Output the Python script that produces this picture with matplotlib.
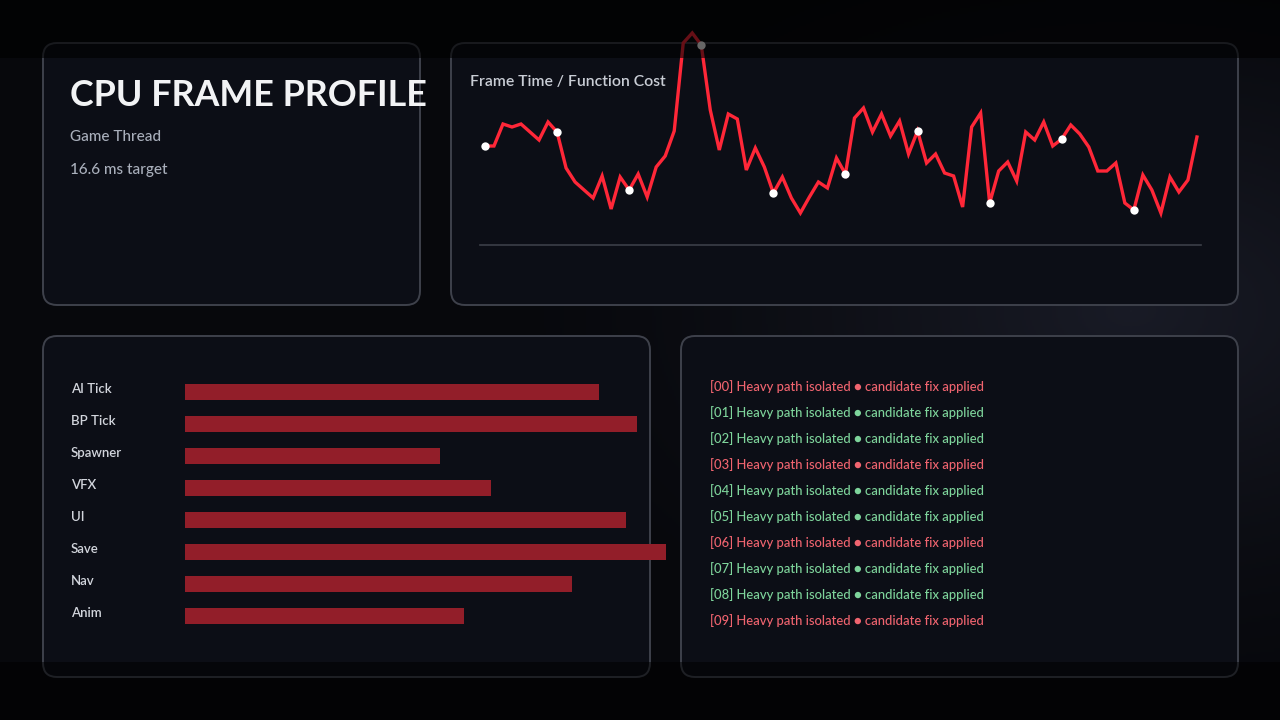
import numpy as np
import matplotlib
matplotlib.use('Agg')
import matplotlib.pyplot as plt
import matplotlib.transforms as mtransforms
from matplotlib.patches import FancyBboxPatch, Rectangle

# frame time samples (ms), 80 frames
frame_ms = [9.9, 9.9, 12.1, 11.8, 12.1, 11.3, 10.5, 12.3, 11.3, 7.7,
            6.3, 5.5, 4.7, 6.9, 3.6, 6.8, 5.5, 7.1, 4.8, 7.8,
            8.9, 11.4, 20.2, 21.2, 20.0, 13.5, 9.5, 13.1, 12.6, 7.5,
            9.7, 7.8, 5.2, 6.8, 4.7, 3.2, 4.8, 6.3, 5.7, 8.7,
            7.1, 12.7, 13.7, 11.3, 13.1, 10.9, 12.4, 9.1, 11.4, 8.2,
            9.1, 7.2, 6.9, 3.8, 11.8, 13.2, 4.2, 7.4, 8.3, 6.4,
            11.3, 10.5, 12.3, 9.9, 10.6, 12.0, 11.1, 9.8, 7.4, 7.4,
            8.2, 4.2, 3.5, 7.0, 5.5, 3.2, 6.8, 5.3, 6.5, 10.8]
marker_every = 8

functions = ['AI Tick', 'BP Tick', 'Spawner', 'VFX', 'UI', 'Save', 'Nav', 'Anim']
function_cost = [4.14, 4.52, 2.55, 3.06, 4.41, 4.81, 3.87, 2.79]

log_lines = ['[%02d] Heavy path isolated \u25cf candidate fix applied' % i for i in range(10)]
log_bad = [i % 3 == 0 for i in range(10)]

W, H = 1280, 720
plt.rcParams['font.family'] = ['Lato', 'DejaVu Sans']

fig = plt.figure(figsize=(12.8, 7.2), dpi=100)
fig.patch.set_facecolor('#07080c')


def px_axes(x0, y0, x1, y1):
    # axes placed by pixel box (top-left origin)
    return fig.add_axes([x0 / W, 1 - y1 / H, (x1 - x0) / W, (y1 - y0) / H])


# background with soft glow
bg = fig.add_axes([0, 0, 1, 1])
bg.set_xlim(0, W)
bg.set_ylim(H, 0)
bg.axis('off')
yy, xx = np.mgrid[0:H:2, 0:W:2]
d = np.sqrt(((xx - 1130) / 650.0) ** 2 + ((yy - 310) / 400.0) ** 2)
glow = np.clip(1 - d, 0, 1) ** 1.4
base = np.array([7, 8, 12]) / 255.0
hi = np.array([25, 27, 38]) / 255.0
img = base + glow[..., None] * (hi - base)
bg.imshow(img, extent=[0, W, H, 0], aspect='auto', zorder=0)

panel_fc = '#0c0e16'
panel_ec = '#3e414b'
for (x0, y0, x1, y1) in [(43, 43, 420, 305), (451, 43, 1238, 305),
                         (43, 336, 650, 677), (681, 336, 1238, 677)]:
    bg.add_patch(FancyBboxPatch((x0 + 14, y0 + 14), x1 - x0 - 28, y1 - y0 - 28,
                                boxstyle='round,pad=14', fc=panel_fc, ec=panel_ec,
                                lw=1.4, zorder=1))

# header panel
bg.text(70, 95, 'CPU FRAME PROFILE', color='#f2f3f5', fontsize=25.8,
        fontweight='bold', va='center', ha='left', zorder=3)
bg.text(70, 137, 'Game Thread', color='#a9afbb', fontsize=11, fontweight='medium',
        va='center', zorder=3)
bg.text(70, 170, '16.6 ms target', color='#a9afbb', fontsize=11, fontweight='medium',
        va='center', zorder=3)

bg.text(470, 82, 'Frame Time / Function Cost', color='#c9cdd5', fontsize=11.3,
        fontweight='semibold', va='center', zorder=3)

# log lines
for i, (line, bad) in enumerate(zip(log_lines, log_bad)):
    bg.text(710, 387 + 26 * i, line, color='#f0646f' if bad else '#7ed49b',
            fontsize=9.4, fontweight='medium', va='center', ha='left', zorder=3)

# frame time line
lx = px_axes(480, 25, 1201, 245)
lx.patch.set_alpha(0)
t = np.arange(len(frame_ms))
lx.plot(t, frame_ms, color='#ff2738', lw=2.4, solid_joinstyle='miter', zorder=2)
lx.plot(t[::marker_every], np.array(frame_ms)[::marker_every], 'o', color='white',
        ms=6, mew=0, zorder=3)
lx.set_xlim(-0.55, len(frame_ms) - 0.55)
lx.set_ylim(0, 22)
for s in ['top', 'left', 'right']:
    lx.spines[s].set_visible(False)
lx.spines['bottom'].set_color('#3c3f48')
lx.spines['bottom'].set_linewidth(1.2)
lx.set_xticks([])
lx.set_yticks([])

# function cost bars
bx = px_axes(185, 376, 700, 632)
bx.patch.set_alpha(0)
bx.barh(range(len(functions)), function_cost, height=0.53, color='#921e29', zorder=2)
bx.set_xlim(0, 5.15)
bx.set_ylim(len(functions) - 0.5, -0.5)
for s in bx.spines.values():
    s.set_visible(False)
bx.set_xticks([])
bx.set_yticks(range(len(functions)))
bx.set_yticklabels(functions, color='#d2d5dc', fontsize=9.5, fontweight='semibold', ha='left')
bx.tick_params(axis='y', length=0, pad=82)
lift = mtransforms.ScaledTranslation(0, 4 / 100, fig.dpi_scale_trans)
for lab in bx.get_yticklabels():
    lab.set_va('center_baseline')
    lab.set_transform(lab.get_transform() + lift)

# darker bands top and bottom
ov = fig.add_axes([0, 0, 1, 1])
ov.set_xlim(0, W)
ov.set_ylim(H, 0)
ov.axis('off')
ov.patch.set_alpha(0)
ov.add_patch(Rectangle((0, 0), W, 58, fc='black', alpha=0.6, lw=0))
ov.add_patch(Rectangle((0, 662), W, 58, fc='black', alpha=0.5, lw=0))

fig.savefig('out.png', dpi=100, facecolor=fig.get_facecolor())
